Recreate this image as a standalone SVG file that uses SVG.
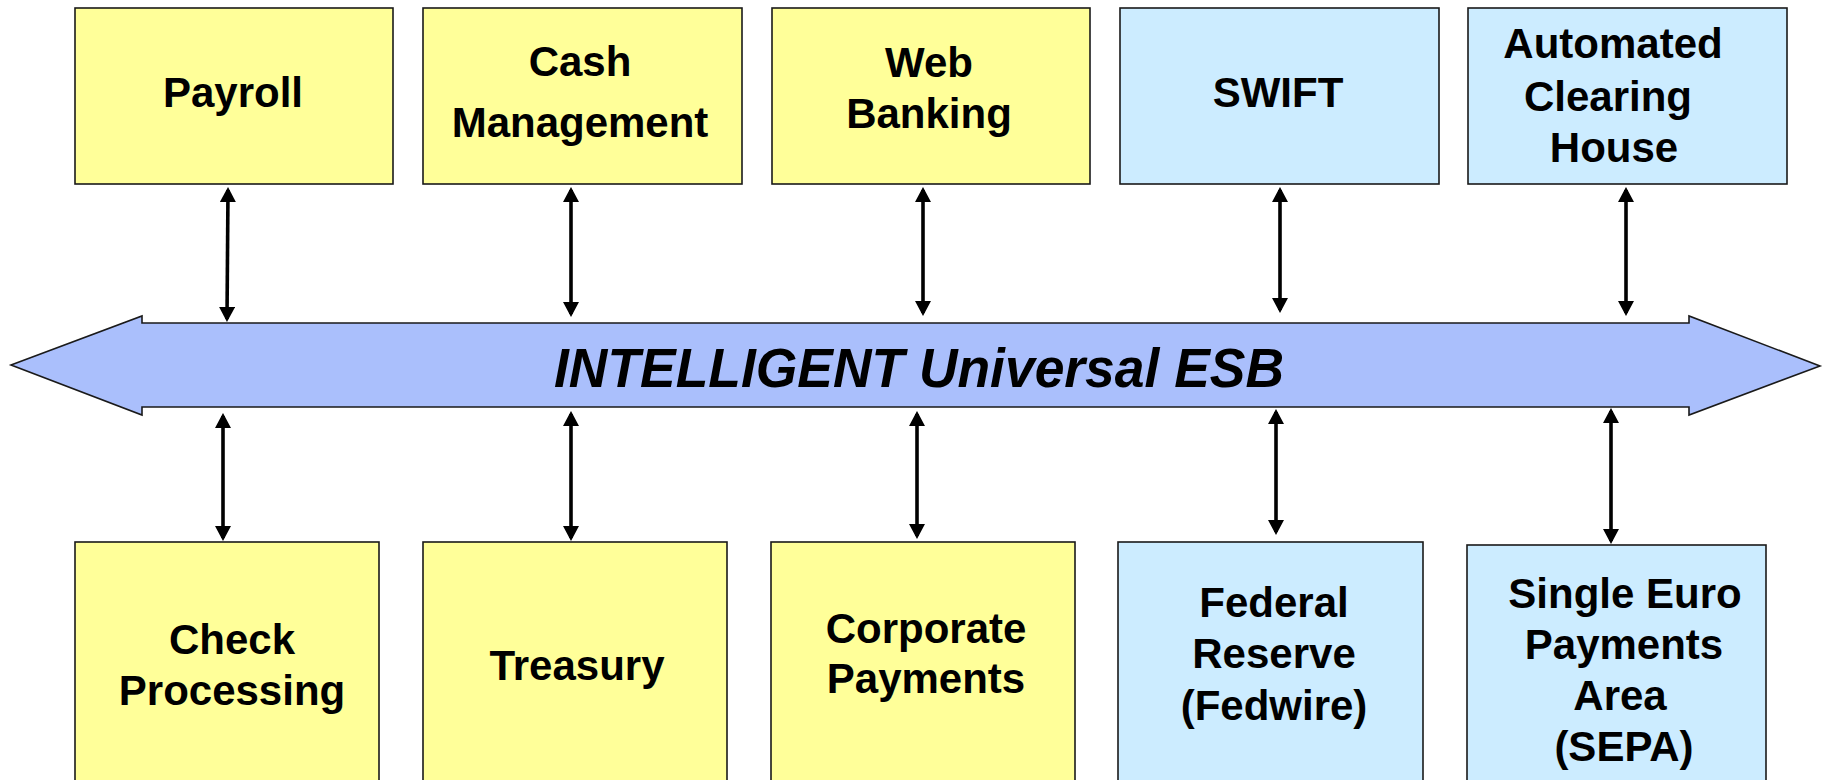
<svg xmlns="http://www.w3.org/2000/svg" width="1824" height="780" viewBox="0 0 1824 780">
<defs>
<marker id="ah" viewBox="0 0 15 16" refX="12" refY="8" markerWidth="15" markerHeight="16" markerUnits="userSpaceOnUse" orient="auto-start-reverse">
<path d="M0,0 L15,8 L0,16 z" fill="#000"/>
</marker>
<style>
.y{fill:#FFFF99;stroke:#1a1a1a;stroke-width:1.6}
.b{fill:#CCECFF;stroke:#1a1a1a;stroke-width:1.6}
.t{font-family:"Liberation Sans",Arial,sans-serif;font-weight:bold;font-size:42px;fill:#000;text-anchor:middle}
.c{stroke:#000;stroke-width:3.6;fill:none;marker-start:url(#ah);marker-end:url(#ah)}
</style>
</defs>
<rect width="1824" height="780" fill="#fff"/>

<g id="esb">
<polygon points="11,365 142,316 142,323 1689,323 1689,316 1820,366 1689,415 1689,407 142,407 142,415" fill="#AABFFC" stroke="#1a1a1a" stroke-width="1.6"/>
<text x="919" y="387" font-family="'Liberation Sans',Arial,sans-serif" font-weight="bold" font-style="italic" font-size="55" text-anchor="middle" textLength="730" lengthAdjust="spacingAndGlyphs">INTELLIGENT Universal ESB</text>
</g>

<g id="payroll"><rect class="y" x="75" y="8" width="318" height="176"/><text class="t" x="233" y="107">Payroll</text></g>
<g id="cash"><rect class="y" x="423" y="8" width="319" height="176"/><text class="t" x="580" y="76">Cash</text><text class="t" x="580" y="137">Management</text></g>
<g id="web"><rect class="y" x="772" y="8" width="318" height="176"/><text class="t" x="929" y="77">Web</text><text class="t" x="929" y="128">Banking</text></g>
<g id="swift"><rect class="b" x="1120" y="8" width="319" height="176"/><text class="t" x="1278" y="107">SWIFT</text></g>
<g id="ach"><rect class="b" x="1468" y="8" width="319" height="176"/><text class="t" x="1613" y="58">Automated</text><text class="t" x="1608" y="111">Clearing</text><text class="t" x="1614" y="162">House</text></g>

<g id="check"><rect class="y" x="75" y="542" width="304" height="250"/><text class="t" x="232" y="654">Check</text><text class="t" x="232" y="705">Processing</text></g>
<g id="treasury"><rect class="y" x="423" y="542" width="304" height="250"/><text class="t" x="577" y="680">Treasury</text></g>
<g id="corporate"><rect class="y" x="771" y="542" width="304" height="250"/><text class="t" x="926" y="643">Corporate</text><text class="t" x="926" y="693">Payments</text></g>
<g id="fedwire"><rect class="b" x="1118" y="542" width="305" height="250"/><text class="t" x="1274" y="617">Federal</text><text class="t" x="1274" y="668">Reserve</text><text class="t" x="1274" y="720">(Fedwire)</text></g>
<g id="sepa"><rect class="b" x="1467" y="545" width="299" height="250"/><text class="t" x="1625" y="608">Single Euro</text><text class="t" x="1624" y="659">Payments</text><text class="t" x="1620" y="710">Area</text><text class="t" x="1624" y="761">(SEPA)</text></g>

<g id="connectors">
<path class="c" d="M228,190 L227,319"/>
<path class="c" d="M571,190 L571,314"/>
<path class="c" d="M923,190 L923,313"/>
<path class="c" d="M1280,190 L1280,310"/>
<path class="c" d="M1626,190 L1626,313"/>
<path class="c" d="M223,416 L223,538"/>
<path class="c" d="M571,414 L571,538"/>
<path class="c" d="M917,414 L917,536"/>
<path class="c" d="M1276,412 L1276,532"/>
<path class="c" d="M1611,411 L1611,541"/>
</g>
</svg>
